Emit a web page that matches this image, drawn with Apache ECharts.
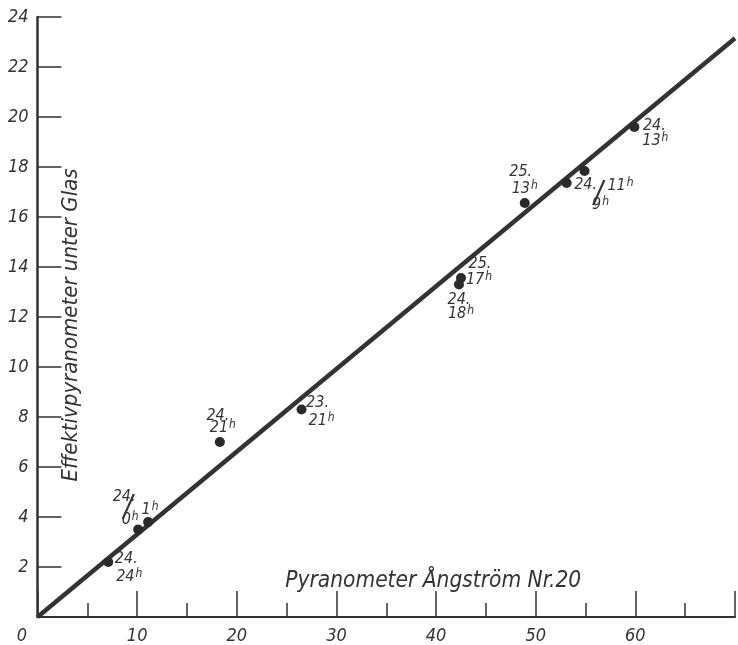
<!DOCTYPE html>
<html>
<head>
<meta charset="utf-8">
<script src="https://cdn.jsdelivr.net/npm/echarts@6/dist/echarts.min.js"></script>
<style>html,body{margin:0;padding:0;background:#fff}#c{width:738px;height:645px}</style>
</head>
<body>
<div id="c"></div>
<script>
// ---- data ----
const xVals = [7.1, 10.1, 11.1, 18.3, 26.5, 42.5, 42.3, 48.9, 53.1, 54.9, 59.9];
const yVals = [2.2, 3.5, 3.8, 7.0, 8.3, 13.56, 13.3, 16.56, 17.36, 17.84, 19.6];
const dayLabels = ['24.', '24.', '', '24.', '23.', '25.', '24.', '25.', '24.', '', '24.'];
const hourLabels = ['24', '0', '1', '21', '21', '17', '18', '13', '9', '11', '13'];
const lineX = [0, 70];
const lineY = [0, 23.15];
const xTicks = [0, 10, 20, 30, 40, 50, 60];
const yTicks = [2, 4, 6, 8, 10, 12, 14, 16, 18, 20, 22, 24];
const xTitle = 'Pyranometer Ångström Nr.20';
const yTitle = 'Effektivpyranometer unter Glas';

// ---- label placement (styles, px offsets from the point) ----
const dayOffsets = [[18,-3],[-14,-33],[0,0],[-2,-26],[16,-7],[19,-14],[0,15],[-4,-31],[19,2],[0,0],[20,-1]];
const hourOffsets = [[21,15],[-8,-10],[2,-12],[3,-14],[20,11],[18,2],[2,29],[0,-14],[34,22],[36,15],[21,14]];
const slashIdx = [1, 8];
const slashOffsets = [[-10,-21],[32,11]];

const FONT = '"DejaVu Sans Condensed", "DejaVu Sans", sans-serif';
const INK = '#333333';

const chart = echarts.init(document.getElementById('c'));

const pts = xVals.map((x, i) => [x, yVals[i]]);

const dayData = pts.map((p, i) => ({
  value: p,
  label: { show: dayLabels[i] !== '', formatter: dayLabels[i], offset: dayOffsets[i] }
}));
const hourData = pts.map((p, i) => ({
  value: p,
  label: { show: true, formatter: '{n|' + hourLabels[i] + '}{s|h}', offset: hourOffsets[i] }
}));
const slashData = slashIdx.map((idx, k) => ({
  value: pts[idx],
  label: { show: true, formatter: '/', offset: slashOffsets[k] }
}));

const textLabelBase = {
  position: 'inside', align: 'center', verticalAlign: 'middle',
  fontFamily: FONT, fontStyle: 'italic', fontSize: 16, color: INK
};
const invisible = { color: 'rgba(0,0,0,0)', opacity: 1 };

chart.setOption({
  animation: false,
  grid: { left: 37.5, right: 1, top: 17, bottom: 28, containLabel: false },
  xAxis: {
    type: 'value', min: 0, max: 70, interval: 10,
    name: xTitle, nameLocation: 'middle', nameGap: -47,
    nameTextStyle: { fontFamily: FONT, fontStyle: 'italic', fontSize: 22.5, color: INK, padding: [0, 0, 0, 94] },
    axisLine: { show: true, onZero: false, lineStyle: { color: INK, width: 2 } },
    axisTick: { show: true, inside: true, length: 26, lineStyle: { color: INK, width: 1.5 } },
    minorTick: { show: true, splitNumber: 2, length: 14, lineStyle: { color: INK, width: 1.5 } },
    splitLine: { show: false },
    axisLabel: {
      margin: 10, fontFamily: FONT, fontStyle: 'italic', fontSize: 18, color: INK,
      formatter: v => xTicks.indexOf(v) < 0 ? '' : (v === 0 ? '{z|0}' : String(v)),
      rich: { z: { fontFamily: FONT, fontStyle: 'italic', fontSize: 18, color: INK, padding: [0, 31, 0, 0] } }
    }
  },
  yAxis: {
    type: 'value', min: 0, max: 24, interval: 2,
    name: yTitle, nameLocation: 'middle', nameRotate: 90, nameGap: -45,
    nameTextStyle: { fontFamily: FONT, fontStyle: 'italic', fontSize: 22, color: INK, padding: [0, 16, 0, 0] },
    axisLine: { show: true, onZero: false, lineStyle: { color: INK, width: 2.5 } },
    axisTick: { show: true, inside: true, length: 24, lineStyle: { color: INK, width: 1.5 } },
    splitLine: { show: false },
    axisLabel: {
      margin: 9, fontFamily: FONT, fontStyle: 'italic', fontSize: 18, color: INK,
      formatter: v => yTicks.indexOf(v) < 0 ? '' : String(v)
    }
  },
  series: [
    {
      type: 'line', data: lineX.map((x, i) => [x, lineY[i]]), symbol: 'none', silent: true,
      lineStyle: { color: '#333', width: 4.5 }, z: 2
    },
    {
      type: 'scatter', data: pts, symbol: 'circle', symbolSize: 10, silent: true,
      itemStyle: { color: '#2a2a2a', opacity: 1 }, z: 3
    },
    {
      type: 'scatter', data: dayData, symbolSize: 1, silent: true, itemStyle: invisible,
      label: Object.assign({ show: true }, textLabelBase), z: 4
    },
    {
      type: 'scatter', data: hourData, symbolSize: 1, silent: true, itemStyle: invisible,
      label: Object.assign({ show: true, rich: {
        n: { fontFamily: FONT, fontStyle: 'italic', fontSize: 16, color: INK },
        s: { fontFamily: FONT, fontStyle: 'italic', fontSize: 12, color: INK, verticalAlign: 'top', padding: [0, 0, 6, 1] }
      } }, textLabelBase), z: 4
    },
    {
      type: 'scatter', data: slashData, symbolSize: 1, silent: true, itemStyle: invisible,
      label: Object.assign({ show: true }, textLabelBase, { fontSize: 30, fontStyle: 'italic' }), z: 4
    }
  ]
});
</script>
</body>
</html>
